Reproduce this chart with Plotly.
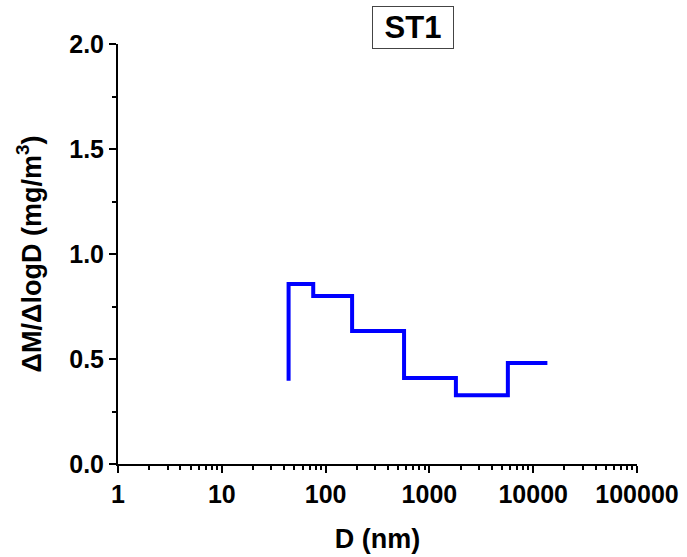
import plotly.graph_objects as go

# Step edges (nm) and mass size distribution values (mg/m^3)
d_points = [44, 44, 76, 180, 570, 1800, 5700, 13700]
dm_values = [0.396, 0.857, 0.80, 0.633, 0.409, 0.327, 0.481, 0.481]

x_tick_vals = [1, 10, 100, 1000, 10000, 100000]
x_tick_text = ["1", "10", "100", "1000", "10000", "100000"]
y_tick_vals = [0.0, 0.5, 1.0, 1.5, 2.0]
y_tick_text = ["0.0", "0.5", "1.0", "1.5", "2.0"]

FONT = "Liberation Sans, Arial, sans-serif"

fig = go.Figure()
fig.add_trace(go.Scatter(
    x=d_points, y=dm_values, mode="lines", line_shape="hv",
    line=dict(color="#0000FF", width=4), showlegend=False,
))

fig.update_layout(
    width=687, height=557,
    margin=dict(l=118, r=50, t=44, b=93),
    paper_bgcolor="white", plot_bgcolor="white",
    font=dict(family=FONT, color="black"),
    annotations=[dict(
        text="<b>&nbsp;ST1&nbsp;</b>", xref="paper", yref="paper",
        x=0.569, y=1.04, xanchor="center", yanchor="middle",
        showarrow=False, font=dict(size=31, family=FONT, color="black"),
        bordercolor="#444444", borderwidth=1, borderpad=3, bgcolor="white",
    )],
)

fig.update_xaxes(
    type="log", range=[0, 5],
    tickvals=x_tick_vals, ticktext=["<b>%s</b>" % t for t in x_tick_text],
    tickfont=dict(size=25, family=FONT, color="black"),
    ticks="outside", ticklen=7, tickwidth=2, tickcolor="black",
    showline=True, linecolor="black", linewidth=2, showgrid=False, zeroline=False,
    minor=dict(ticks="outside", ticklen=4, tickwidth=1.5, tickcolor="black",
               dtick="D1", showgrid=False),
    title=dict(text="<b>D (nm)</b>", font=dict(size=27, family=FONT, color="black"), standoff=22),
    automargin=False,
)
fig.update_yaxes(
    range=[0, 2.0],
    tickvals=y_tick_vals, ticktext=["<b>%s</b>" % t for t in y_tick_text],
    tickfont=dict(size=25, family=FONT, color="black"),
    ticks="outside", ticklen=7, tickwidth=2, tickcolor="black",
    showline=True, linecolor="black", linewidth=2, showgrid=False, zeroline=False,
    minor=dict(ticks="outside", ticklen=4, tickwidth=1.5, tickcolor="black",
               dtick=0.25, showgrid=False),
    title=dict(text="<b>ΔM/ΔlogD (mg/m<sup>3</sup>)</b>", font=dict(size=27, family=FONT, color="black"), standoff=20),
    automargin=False,
)

fig.write_html("out.html")
